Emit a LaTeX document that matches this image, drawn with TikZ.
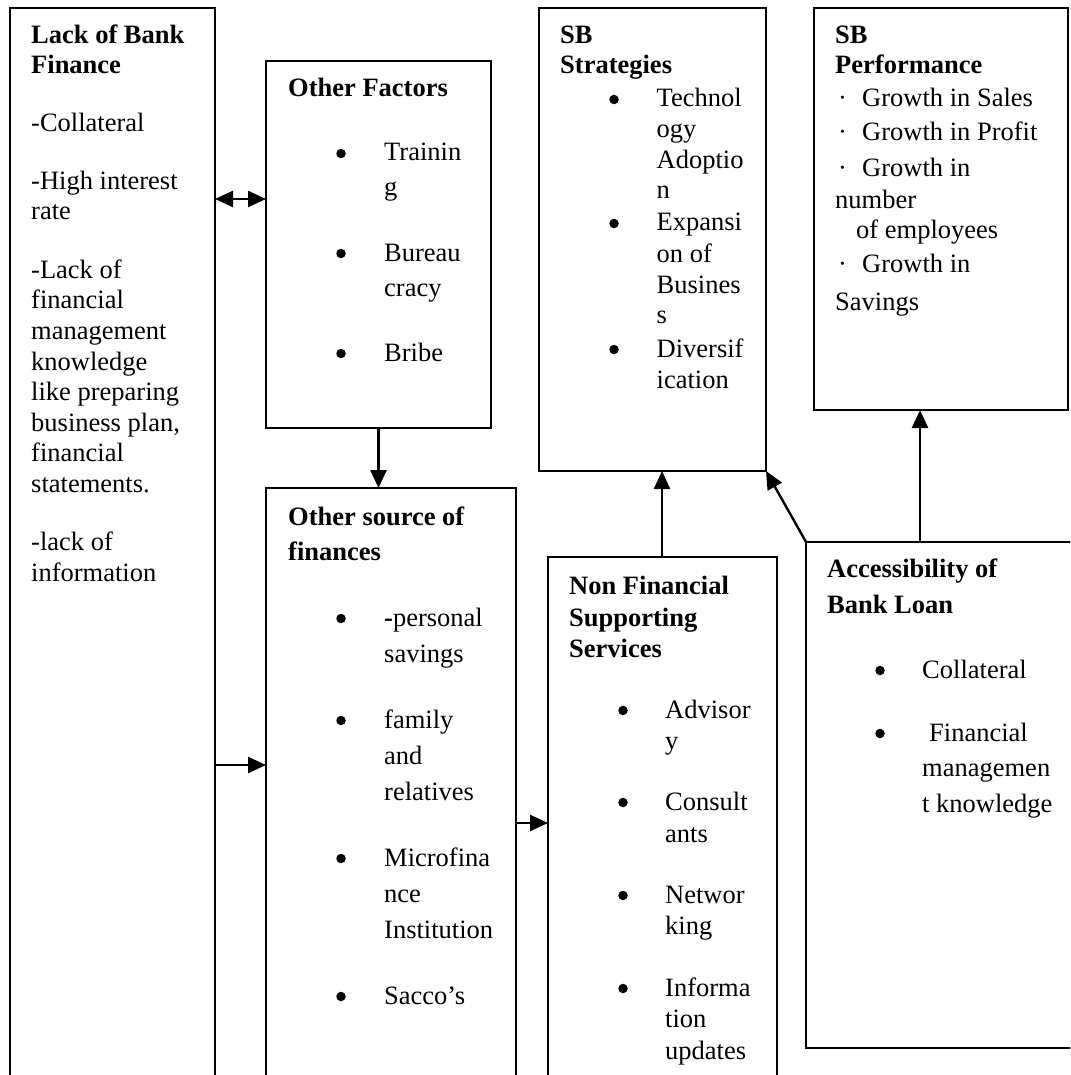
\documentclass[tikz,border=0pt]{standalone}
\usepackage{fontspec}
\setmainfont{Liberation Serif}
\usetikzlibrary{arrows.meta}
\tikzset{
  box/.style={draw, line width=2pt, rectangle, inner sep=0pt, outer sep=0pt, anchor=north west},
  tip/.tip={Triangle[length=18pt,width=16pt]},
  conn/.style={line width=2.4pt, -tip},
  bconn/.style={line width=2.4pt, tip-tip},
  txt/.style={anchor=base west, inner sep=0pt, font=\fontsize{26.5}{30}\selectfont},
  ttl/.style={txt, font=\fontsize{26.5}{30}\selectfont\bfseries},
  bdot/.style={circle, fill, inner sep=0pt, minimum size=9.5pt},
}
\newcommand\tl[4]{\node[txt] (#1) at (#2,#3) {#4};}
\newcommand\tlb[4]{\node[ttl] (#1) at (#2,#3) {#4};}
\newcommand\bl[3]{\node[bdot] (#1) at (#2,#3-7.5) {};}
\begin{document}
\begin{tikzpicture}[x=1pt,y=-1pt]
\useasboundingbox (0,0) rectangle (1070,1075);
\clip (0,0) rectangle (1070,1075);
\fill[white] (0,0) rectangle (1070,1075);
% boxes
\node[box, minimum width=205pt, minimum height=1100pt] (A) at (10,8) {};
\node[box, minimum width=225pt, minimum height=367pt] (B) at (266,61) {};
\node[box, minimum width=250pt, minimum height=620pt] (C) at (266,488) {};
\node[box, minimum width=227pt, minimum height=463pt] (D) at (539,8) {};
\node[box, minimum width=254pt, minimum height=402pt] (E) at (814,8) {};
\node[box, minimum width=229pt, minimum height=560pt] (F) at (548,557) {};
\node[box, minimum width=290pt, minimum height=506pt] (G) at (806,542) {};
% connectors
\coordinate (yab) at (0,199);
\coordinate (yac) at (0,765);
\coordinate (ycf) at (0,823);
\coordinate (xfd) at (662,0);
\coordinate (xge) at (920,0);
\draw[bconn] (A.east |- yab) -- (B.west |- yab);
\draw[conn] (B.south) -- (B.south |- C.north);
\draw[conn] (A.east |- yac) -- (C.west |- yac);
\draw[conn] (C.east |- ycf) -- (F.west |- ycf);
\draw[conn] (xfd |- F.north) -- (xfd |- D.south);
\draw[conn] (G.north west) -- (D.south east);
\draw[conn] (xge |- G.north) -- (xge |- E.south);
% Box A
\tlb{a1}{31}{44}{Lack of Bank}
\tlb{a2}{31}{74}{Finance}
\tl{a3}{31}{132}{-Collateral}
\tl{a4}{31}{190}{-High interest}
\tl{a5}{31}{220}{rate}
\tl{a6}{31}{278}{-Lack of}
\tl{a7}{31}{308.5}{financial}
\tl{a8}{31}{339}{management}
\tl{a9}{31}{370}{knowledge}
\tl{a10}{31}{400}{like preparing}
\tl{a11}{31}{431}{business plan,}
\tl{a12}{31}{461}{financial}
\tl{a13}{31}{492}{statements.}
\tl{a14}{31}{550}{-lack of}
\tl{a15}{31}{581}{information}
% Box B
\tlb{b1}{288}{97}{Other Factors}
\bl{bd1}{341}{161}
\tl{b2}{384}{161}{Trainin}
\tl{b3}{384}{196}{g}
\bl{bd2}{341}{261}
\tl{b4}{384}{261}{Bureau}
\tl{b5}{384}{296}{cracy}
\bl{bd3}{341}{361}
\tl{b6}{384}{361}{Bribe}
% Box C
\tlb{c1}{288}{525}{Other source of}
\tlb{c2}{288}{560}{finances}
\bl{cd1}{341}{626}
\tl{c3}{384}{626}{\textbf{-}personal}
\tl{c4}{384}{662}{savings}
\bl{cd2}{341}{728}
\tl{c5}{384}{728}{family}
\tl{c6}{384}{764}{and}
\tl{c7}{384}{800}{relatives}
\bl{cd3}{341}{866}
\tl{c8}{384}{866}{Microfina}
\tl{c9}{384}{902}{nce}
\tl{c10}{384}{938}{Institution}
\bl{cd4}{341}{1004}
\tl{c11}{384}{1004}{Sacco’s}
% Box D
\tlb{d1}{560}{44}{SB}
\tlb{d2}{560}{74}{Strategies}
\bl{dd1}{614}{107}
\tl{d3}{656.5}{107}{Technol}
\tl{d4}{656.5}{138}{ogy}
\tl{d5}{656.5}{169}{Adoptio}
\tl{d6}{656.5}{199}{n}
\bl{dd2}{614}{231}
\tl{d7}{656.5}{231}{Expansi}
\tl{d8}{656.5}{262}{on of}
\tl{d9}{656.5}{293}{Busines}
\tl{d10}{656.5}{323}{s}
\bl{dd3}{614}{357}
\tl{d11}{656.5}{357}{Diversif}
\tl{d12}{656.5}{388}{ication}
% Box E
\tlb{e1}{835}{44}{SB}
\tlb{e2}{835}{74}{Performance}
\tl{ed1}{838}{107}{·}
\tl{e3}{862}{107}{Growth in Sales}
\tl{ed2}{838}{141}{·}
\tl{e4}{862}{141}{Growth in Profit}
\tl{ed3}{838}{177}{·}
\tl{e5}{862}{177}{Growth in}
\tl{e6}{835}{209}{number}
\tl{e7}{856}{239}{of employees}
\tl{ed4}{838}{272}{·}
\tl{e8}{862}{272}{Growth in}
\tl{e9}{835}{310}{Savings}
% Box F
\tlb{f1}{569}{594}{Non Financial}
\tlb{f2}{569}{626}{Supporting}
\tlb{f3}{569}{657}{Services}
\bl{fd1}{623}{718}
\tl{f4}{665}{718}{Advisor}
\tl{f5}{665}{749}{y}
\bl{fd2}{623}{810}
\tl{f6}{665}{810}{Consult}
\tl{f7}{665}{842}{ants}
\bl{fd3}{623}{903}
\tl{f8}{665}{903}{Networ}
\tl{f9}{665}{934}{king}
\bl{fd4}{623}{996}
\tl{f10}{665}{996}{Informa}
\tl{f11}{665}{1027}{tion}
\tl{f12}{665}{1059}{updates}
% Box G
\tlb{g1}{827}{577}{Accessibility of}
\tlb{g2}{827}{613}{Bank Loan}
\bl{gd1}{880}{678}
\tl{g3}{922}{678}{Collateral}
\bl{gd2}{880}{741}
\tl{g4}{929}{741}{Financial}
\tl{g5}{922}{776}{managemen}
\tl{g6}{922}{812}{t knowledge}
\end{tikzpicture}
\end{document}
